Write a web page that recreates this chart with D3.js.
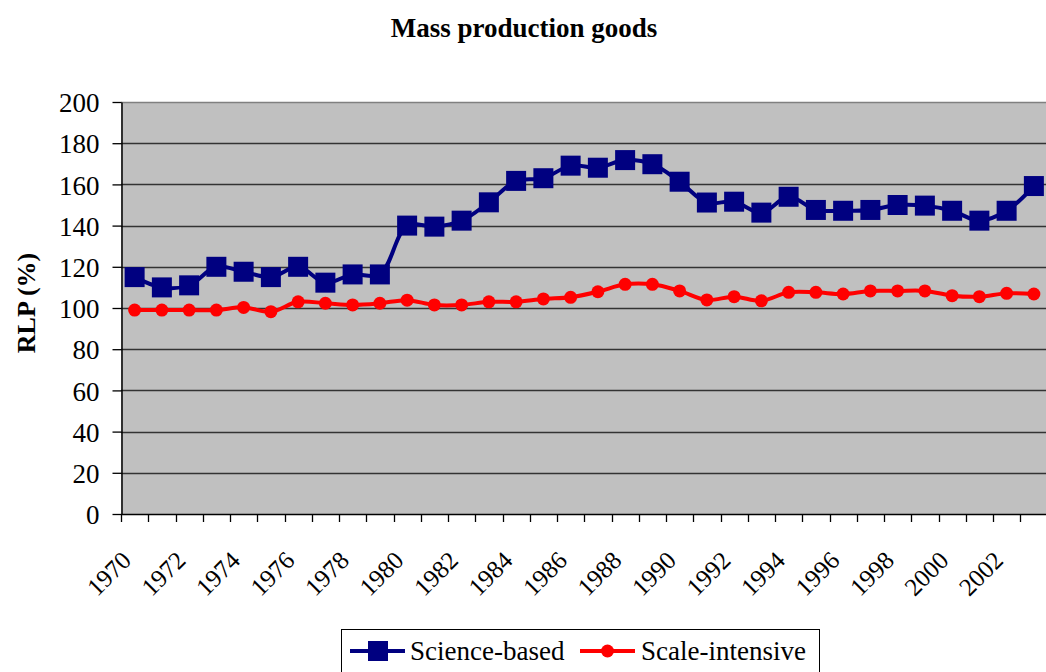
<!DOCTYPE html>
<html>
<head>
<meta charset="utf-8">
<script src="https://cdn.jsdelivr.net/npm/d3@7"></script>
<style>
  body { margin: 0; background: #fff; }
  svg text { font-family: "Liberation Serif", "Times New Roman", serif; fill: #000; }
</style>
</head>
<body>
<div id="chart"></div>
<script>
// Data.
var years = ["1970","1971","1972","1973","1974","1975","1976","1977","1978","1979",
             "1980","1981","1982","1983","1984","1985","1986","1987","1988","1989",
             "1990","1991","1992","1993","1994","1995","1996","1997","1998","1999",
             "2000","2001","2002","2003"];
var scienceBased = [115, 110, 111, 120, 117.6, 115, 120, 112.3, 116.3, 116.3,
                    140, 139.5, 142.4, 151.3, 161.7, 163, 169.1, 168.1, 171.8, 169.8,
                    161.3, 151.2, 151.6, 146.3, 154, 147.6, 147.2, 147.6, 150, 149.7,
                    147.2, 142.4, 147.2, 159.2];
var scaleIntensive = [99, 99, 99, 99, 100.3, 98.2, 103, 102.3, 101.5, 102.3,
                      103.8, 101.5, 101.5, 103, 103, 104.4, 105.2, 107.9, 111.5, 111.5,
                      108.3, 103.9, 105.5, 103.5, 107.6, 107.6, 106.8, 108.3, 108.3, 108.3,
                      106, 105.5, 107.1, 106.8];
var yTicks = [0, 20, 40, 60, 80, 100, 120, 140, 160, 180, 200];
var seriesNames = ["Science-based", "Scale-intensive"];
var seriesColors = ["#000080", "#ff0000"];

// Layout (plot area edges).
var W = 1046, H = 672;
var plotLeft = 121, plotRight = 1047.5, plotTop = 102, plotBottom = 514;
var serif = "'Liberation Serif', 'Times New Roman', serif";

var svg = d3.select("#chart").append("svg")
    .attr("width", W).attr("height", H)
    .attr("font-family", serif);

var x = d3.scaleBand().domain(years).range([plotLeft, plotRight]);
var y = d3.scaleLinear().domain([0, 200]).range([plotBottom, plotTop]);

// Plot background.
svg.append("rect")
    .attr("x", plotLeft).attr("y", plotTop)
    .attr("width", plotRight - plotLeft).attr("height", plotBottom - plotTop)
    .attr("fill", "#c0c0c0");

// Gridlines.
svg.selectAll("line.grid")
    .data(yTicks.filter(function(d) { return d > 0; }))
    .enter().append("line")
    .attr("class", "grid")
    .attr("x1", plotLeft).attr("x2", plotRight)
    .attr("y1", function(d) { return Math.round(y(d)) + 0.5; })
    .attr("y2", function(d) { return Math.round(y(d)) + 0.5; })
    .attr("stroke", function(d) { return d == 200 ? "#808080" : "#333"; })
    .attr("stroke-width", 1.3);

// Y axis.
var yAxis = d3.axisLeft(y).tickValues(yTicks).tickSize(9).tickSizeOuter(0);
var gy = svg.append("g")
    .attr("transform", "translate(" + (plotLeft + 0.5) + ",0)")
    .call(yAxis)
    .attr("font-family", serif);
gy.select(".domain").attr("stroke", "#000").attr("stroke-width", 1.5);
gy.selectAll(".tick line").attr("stroke", "#000").attr("stroke-width", 1.3);
gy.selectAll(".tick text")
    .attr("x", -22)
    .attr("dy", "0.36em")
    .style("font-size", "27px")
    .style("font-family", serif)
    .attr("fill", "#000");

// X axis: ticks at category boundaries, labels every two years.
var gx = svg.append("g").attr("class", "xaxis");
gx.append("line")
    .attr("x1", plotLeft).attr("x2", plotRight)
    .attr("y1", plotBottom + 0.5).attr("y2", plotBottom + 0.5)
    .attr("stroke", "#000").attr("stroke-width", 1.5);
gx.selectAll("line.xt")
    .data(years)
    .enter().append("line")
    .attr("class", "xt")
    .attr("x1", function(d) { return Math.round(x(d)) + 0.5; })
    .attr("x2", function(d) { return Math.round(x(d)) + 0.5; })
    .attr("y1", plotBottom).attr("y2", plotBottom + 8)
    .attr("stroke", "#000").attr("stroke-width", 1.3);
gx.selectAll("text")
    .data(years.filter(function(d, i) { return i % 2 == 0 && i < 33; }))
    .enter().append("text")
    .attr("transform", function(d) {
        return "translate(" + (x(d) + x.bandwidth() / 2 - 2) + "," + (plotBottom + 48) + ") rotate(-45)";
    })
    .attr("text-anchor", "end")
    .style("font-size", "25px")
    .style("font-family", serif)
    .text(function(d) { return d; });

// Lines.
var series = [scienceBased, scaleIntensive];
var line = d3.line()
    .x(function(d, i) { return x(years[i]) + x.bandwidth() / 2; })
    .y(function(d) { return y(d); })
    .curve(d3.curveCatmullRom.alpha(0.5));

series.forEach(function(values, s) {
    svg.append("path")
        .datum(values)
        .attr("d", line)
        .attr("fill", "none")
        .attr("stroke", seriesColors[s])
        .attr("stroke-width", 4)
        .attr("stroke-linejoin", "round");
});

// Markers.
svg.selectAll("rect.sq")
    .data(scienceBased)
    .enter().append("rect")
    .attr("class", "sq")
    .attr("x", function(d, i) { return x(years[i]) + x.bandwidth() / 2 - 10; })
    .attr("y", function(d) { return y(d) - 10; })
    .attr("width", 20).attr("height", 20)
    .attr("fill", seriesColors[0]);

svg.selectAll("circle.dot")
    .data(scaleIntensive)
    .enter().append("circle")
    .attr("class", "dot")
    .attr("cx", function(d, i) { return x(years[i]) + x.bandwidth() / 2; })
    .attr("cy", function(d) { return y(d); })
    .attr("r", 6.5)
    .attr("fill", seriesColors[1]);

// Title and axis label.
svg.append("text")
    .attr("x", 524).attr("y", 37)
    .attr("text-anchor", "middle")
    .style("font-size", "27px").style("font-weight", "bold")
    .text("Mass production goods");

svg.append("text")
    .attr("transform", "translate(35," + 303 + ") rotate(-90)")
    .attr("text-anchor", "middle")
    .style("font-size", "26px").style("font-weight", "bold")
    .text("RLP (%)");

// Legend.
var lg = svg.append("g");
lg.append("rect")
    .attr("x", 341.5).attr("y", 629.5)
    .attr("width", 478).attr("height", 60)
    .attr("fill", "#fff").attr("stroke", "#000").attr("stroke-width", 1);

var ly = 651;
var lx0 = 350;
lg.append("line").attr("x1", lx0).attr("x2", lx0 + 55).attr("y1", ly).attr("y2", ly)
    .attr("stroke", seriesColors[0]).attr("stroke-width", 4);
lg.append("rect").attr("x", lx0 + 18).attr("y", ly - 10).attr("width", 20).attr("height", 20)
    .attr("fill", seriesColors[0]);
lg.append("text").attr("x", lx0 + 60).attr("y", ly + 9)
    .style("font-size", "27px").text(seriesNames[0]);

var lx1 = 580;
lg.append("line").attr("x1", lx1).attr("x2", lx1 + 55).attr("y1", ly).attr("y2", ly)
    .attr("stroke", seriesColors[1]).attr("stroke-width", 4);
lg.append("circle").attr("cx", lx1 + 27.5).attr("cy", ly).attr("r", 6.5)
    .attr("fill", seriesColors[1]);
lg.append("text").attr("x", lx1 + 61).attr("y", ly + 9)
    .style("font-size", "27px").text(seriesNames[1]);
</script>
</body>
</html>
